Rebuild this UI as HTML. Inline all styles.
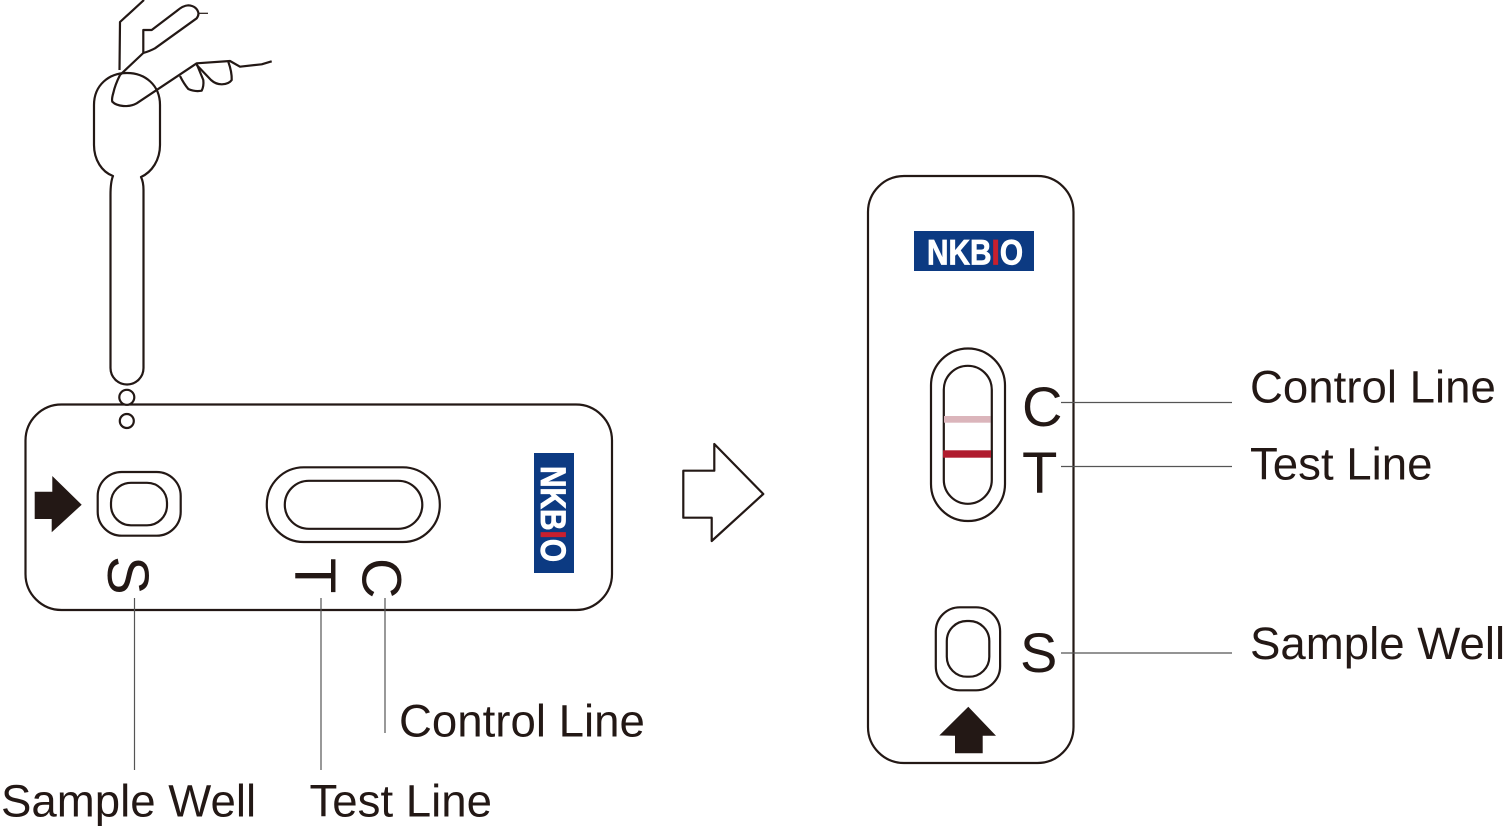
<!DOCTYPE html>
<html>
<head>
<meta charset="utf-8">
<style>
html,body{margin:0;padding:0;background:#fff;width:1506px;height:831px;overflow:hidden}
svg{display:block}
text{font-family:"Liberation Sans",sans-serif;fill:#231815}
.lab{font-size:45.6px}
.let{font-size:58px}
.let2{font-size:56px}
.logo{font-size:35px;font-weight:bold;fill:#fff;stroke:#fff;stroke-width:.8px}
.red{fill:#c8202f;stroke:#c8202f}
</style>
</head>
<body>
<svg width="1506" height="831" viewBox="0 0 1506 831" xmlns="http://www.w3.org/2000/svg">
<g fill="none" stroke="#231815" stroke-width="2.2" stroke-linejoin="round">
  <!-- hand -->
  <path d="M144 0 L120 22 L119.5 70"/>
  <path d="M120 75 L143.3 53 L143.3 30 L151.7 30 L176.7 11 Q183 5.5 188.3 5.3 Q197 6 198.5 13.3 Q198.5 16 196.7 18.3 L155 48.3 Q150 51 143.3 53"/>
  <path d="M199 13.3 L208 13.3" stroke-width="1.2"/>
  <path d="M120 75 Q115 85 113.3 93 Q111.5 99 112.3 101.7 Q116 105.5 123.3 106 Q131 106.5 136.7 103.3 L196.7 63.3 L230 61 L240 66.7 L261.7 64.3 L271.7 61.3"/>
  <path d="M180 76 Q184 84 188.3 89 Q195 92 201.7 90.7 Q204 86 203.3 80 L196.7 64"/>
  <path d="M196.7 65 L211 80 Q216 84.5 222 84.3 Q229 84 231.7 80 Q232 72 228.3 61.7"/>
  <!-- dropper -->
  <path d="M110.5 195 L110.5 368 A16.5 16.5 0 0 0 143.5 368 L143.5 190 Q143.5 182 141 177 C152 172 160 160 160 145 L160 105 C160 85 145 73 127 73 C109 73 94 85 94 105 L94 145 C94 160 102 172 113 176 Q110.5 182 110.5 195 Z"/>
  <!-- left card -->
  <rect x="25.5" y="404.5" width="586.5" height="205.5" rx="36" ry="36"/>
  <circle cx="126.8" cy="397.3" r="7.5" fill="#fff"/>
  <circle cx="126.8" cy="421" r="7"/>
  <rect x="97.7" y="472" width="83" height="63.7" rx="24" ry="24"/>
  <rect x="111" y="482.8" width="56" height="42.5" rx="20" ry="20"/>
  <rect x="266.8" y="467.3" width="173" height="74.7" rx="37" ry="37"/>
  <rect x="284.8" y="480.8" width="137.5" height="48" rx="24" ry="24"/>
  <!-- big arrow -->
  <path d="M683.3 470.7 L714.3 470.7 L714.3 444 L763.3 494 L711.7 541 L711.7 517.7 L683.3 517.7 Z"/>
  <!-- right card -->
  <rect x="868" y="176" width="205.5" height="587" rx="36" ry="36"/>
  <rect x="931" y="348.5" width="74" height="172.5" rx="37" ry="37"/>
  <rect x="943.8" y="365.8" width="48" height="138" rx="24" ry="24"/>
  <rect x="935.8" y="607.3" width="64.3" height="83" rx="24" ry="24"/>
  <rect x="946.8" y="621" width="42.5" height="55.7" rx="20" ry="20"/>
</g>
<!-- solid arrows -->
<path d="M34.7 491.7 L52.3 491.7 L52.3 476 L81.7 504.7 L51.7 532.3 L51.7 519 L34.7 519 Z" fill="#231815"/>
<path d="M968.3 706.7 L996 735.7 L982.7 735.7 L982.7 753.3 L955 753.3 L955 735.7 L939.3 735.5 Z" fill="#231815"/>
<!-- test lines -->
<rect x="944" y="416" width="46.5" height="6.7" fill="#dbb5bb"/>
<rect x="943" y="450.3" width="48" height="7.4" fill="#b01c2e"/>
<!-- leaders -->
<g stroke="#555" stroke-width="1.2" fill="none">
  <path d="M134.5 598 V770"/>
  <path d="M321 598 V770"/>
  <path d="M385 598 V733"/>
  <path d="M1061 402.5 H1232"/>
  <path d="M1061 466.5 H1232"/>
  <path d="M1061 653 H1232"/>
</g>
<!-- logos -->
<rect x="534" y="453" width="40" height="120" fill="#0c3a82"/>
<rect x="914" y="231" width="120" height="40" fill="#0c3a82"/>
<text class="logo" x="927" y="264.5" textLength="96" lengthAdjust="spacingAndGlyphs">NKB<tspan class="red" style="fill:#c8202f;stroke:#c8202f">I</tspan>O</text>
<text class="logo" transform="translate(541 466) rotate(90)" x="0" y="0" textLength="96" lengthAdjust="spacingAndGlyphs">NKB<tspan class="red" style="fill:#c8202f;stroke:#c8202f">I</tspan>O</text>
<!-- letters -->
<text class="let" transform="translate(108 556) rotate(90)">S</text>
<text class="let" transform="translate(295 558) rotate(90)">T</text>
<text class="let2" transform="translate(362.5 558) rotate(90)">C</text>
<text class="let2" x="1022" y="426">C</text>
<text class="let" x="1022" y="493">T</text>
<text class="let2" x="1020" y="672">S</text>
<!-- labels -->
<text class="lab" x="399" y="736.5">Control Line</text>
<text class="lab" x="1" y="816.5">Sample Well</text>
<text class="lab" x="309.5" y="816.5">Test Line</text>
<text class="lab" x="1250" y="402.5">Control Line</text>
<text class="lab" x="1250" y="479.5">Test Line</text>
<text class="lab" x="1250" y="659">Sample Well</text>
</svg>
</body>
</html>
